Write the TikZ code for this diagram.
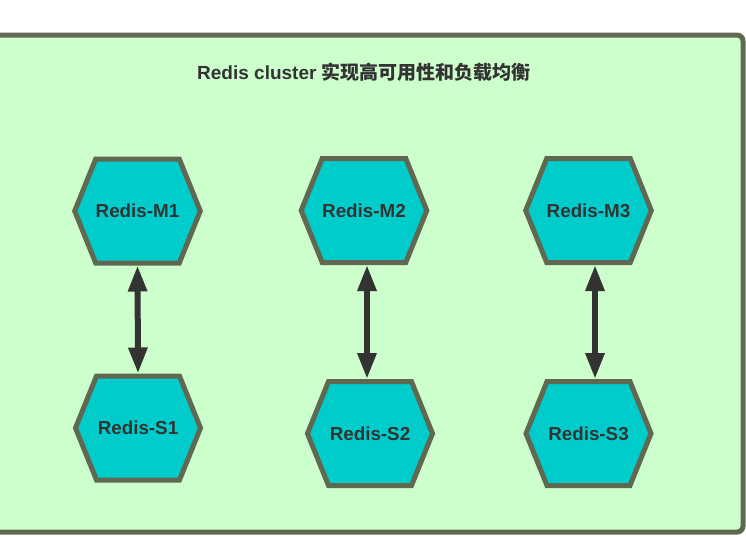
\documentclass[tikz,border=0pt]{standalone}
\usepackage{fontspec}
\setmainfont{Liberation Sans}
\newfontfamily\cjk{Noto Sans CJK SC}
\usepackage{tikz}
\usetikzlibrary{shapes,arrows.meta}
\definecolor{boxgreen}{RGB}{204,255,204}
\definecolor{edgegray}{RGB}{97,104,82}
\definecolor{hexcyan}{RGB}{0,204,204}
\definecolor{textgray}{RGB}{51,51,51}
\tikzstyle{frame} = [draw=edgegray, line width=5pt, fill=boxgreen, rounded corners=6pt]
\tikzstyle{title} = [text=textgray, font=\fontsize{19}{21}\selectfont\bfseries]
\tikzstyle{hexa} = [signal, signal to=east and west, signal pointer angle=136, draw=edgegray, line width=5pt, fill=hexcyan, minimum width=125pt, minimum height=104pt, inner sep=0pt, text=textgray, font=\fontsize{18.8}{21}\selectfont\bfseries]
\tikzstyle{line} = [draw=textgray, line width=6pt, {Triangle[length=26pt,width=18pt]}-{Triangle[length=26pt,width=18pt]}]

\begin{document}
\begin{tikzpicture}[x=1pt,y=-1pt]
\useasboundingbox (0,0) rectangle (746,536);
\path [frame] (-20,35) rectangle (743,532);
\node [title] (title) at (364,72) {Redis cluster {\cjk 实现高可用性和负载均衡}};
\node [hexa] (m1) at (137.5,211) {Redis-M1};
\node [hexa] (m2) at (364,210.5) {Redis-M2};
\node [hexa] (m3) at (588.5,210.5) {Redis-M3};
\node [hexa] (s1) at (138,428) {Redis-S1};
\node [hexa] (s2) at (370,433.5) {Redis-S2};
\node [hexa] (s3) at (588.5,433.5) {Redis-S3};
\path [line] (m1.south) -- (s1.north);
\path [line] ([xshift=3pt]m2.south) -- ([xshift=-3pt]s2.north);
\path [line] ([xshift=6.5pt]m3.south) -- ([xshift=6.5pt]s3.north);
\end{tikzpicture}
\end{document}
